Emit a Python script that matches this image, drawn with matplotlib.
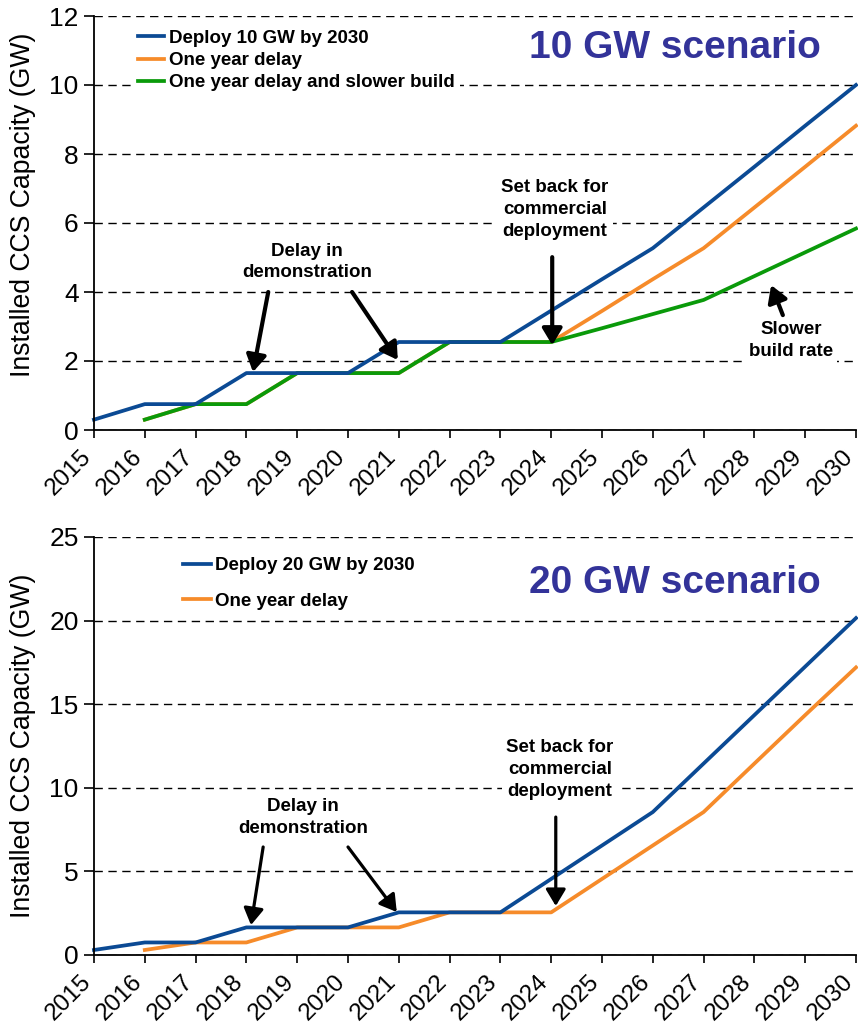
import numpy as np
import matplotlib
matplotlib.use("Agg")
import matplotlib.pyplot as plt
import matplotlib.transforms as mtransforms

plt.rcParams['font.family'] = ['Liberation Sans', 'DejaVu Sans']

years = list(range(2015, 2031))
year_labels = [str(y) for y in years]

# 10 GW scenario
deploy10 = [0.3, 0.75, 0.75, 1.65, 1.65, 1.65, 2.55, 2.55, 2.55, 3.46, 4.37, 5.27, 6.45, 7.63, 8.82, 10.0]
delay10 = [np.nan, 0.3, 0.75, 0.75, 1.65, 1.65, 1.65, 2.55, 2.55, 2.55, 3.45, 4.37, 5.27, 6.45, 7.63, 8.82]
slower10 = [np.nan, 0.3, 0.75, 0.75, 1.65, 1.65, 1.65, 2.55, 2.55, 2.55, 2.95, 3.36, 3.77, 4.46, 5.15, 5.84]

# 20 GW scenario
deploy20 = [0.3, 0.75, 0.75, 1.65, 1.65, 1.65, 2.55, 2.55, 2.55, 4.55, 6.55, 8.55, 11.45, 14.35, 17.25, 20.15]
delay20 = [np.nan, 0.3, 0.75, 0.75, 1.65, 1.65, 1.65, 2.55, 2.55, 2.55, 4.55, 6.55, 8.55, 11.45, 14.35, 17.2]

BLUE = "#0B4A94"
ORANGE = "#F68B2A"
GREEN = "#0A9A0A"
TITLE_C = "#333399"

W, H = 858, 1027
fig = plt.figure(figsize=(W / 100, H / 100), dpi=100)

def px_axes(left, top, right, bottom):
    return fig.add_axes([left / W, 1 - bottom / H, (right - left) / W, (bottom - top) / H])

ax1 = px_axes(94, 16, 856, 430)
ax2 = px_axes(94, 537, 856, 955)

offset = mtransforms.ScaledTranslation(-14 / 100, -16 / 100, fig.dpi_scale_trans)

def style(ax, ymax, ystep):
    ax.set_xlim(2015, 2030)
    ax.set_ylim(0, ymax)
    ax.set_xticks(years)
    ax.set_xticklabels([])
    trans = mtransforms.blended_transform_factory(ax.transData, ax.transAxes) + offset
    for yr, lab in zip(years, year_labels):
        ax.text(yr, 0, lab, transform=trans, rotation=45, ha='right', va='top',
                rotation_mode='anchor', fontsize=17.5, clip_on=False)
    ax.set_yticks(np.arange(0, ymax + 0.01, ystep))
    ax.tick_params(axis='y', labelsize=19, direction='out', length=7, width=1.2, pad=4)
    ax.tick_params(axis='x', direction='out', length=6, width=1.2, pad=3)
    for s in ['top', 'right']:
        ax.spines[s].set_visible(False)
    for s in ['left', 'bottom']:
        ax.spines[s].set_linewidth(1.3)
        ax.spines[s].set_zorder(5)
    ax.set_axisbelow(True)
    ax.yaxis.grid(True, color='black', linestyle=(0, (6, 4)), linewidth=1.0)
    ax.set_ylabel("Installed CCS Capacity (GW)", fontsize=19.2)
    ax.margins(0)

style(ax1, 12, 2)
style(ax2, 25, 5)
ax1.yaxis.set_label_coords(-0.076, 0.545)
ax2.yaxis.set_label_coords(-0.076, 0.5)

lw = 2.7
ax1.plot(years, deploy10, color=BLUE, lw=lw, label="Deploy 10 GW by 2030", zorder=4, clip_on=False)
ax1.plot(years, delay10, color=ORANGE, lw=lw, label="One year delay", zorder=3, clip_on=False)
ax1.plot(years, slower10, color=GREEN, lw=lw, label="One year delay and slower build", zorder=3.5, clip_on=False)

ax2.plot(years, deploy20, color=BLUE, lw=lw, label="Deploy 20 GW by 2030", zorder=4, clip_on=False)
ax2.plot(years, delay20, color=ORANGE, lw=lw, label="One year delay", zorder=3, clip_on=False)

leg1 = ax1.legend(loc='upper left', bbox_to_anchor=(0.05, 0.98), frameon=True,
                  prop={'weight': 'bold', 'size': 13.5}, handlelength=1.4,
                  handletextpad=0.25, labelspacing=0.27, borderpad=0.3, borderaxespad=0)
leg1.get_frame().set_edgecolor('none')
leg1.get_frame().set_facecolor('white')
leg1.get_frame().set_alpha(1)

leg2 = ax2.legend(loc='upper left', bbox_to_anchor=(0.11, 0.965), frameon=True,
                  prop={'weight': 'bold', 'size': 13.5}, handlelength=1.45,
                  handletextpad=0.25, labelspacing=0.98, borderpad=0.3, borderaxespad=0)
leg2.get_frame().set_edgecolor('none')
leg2.get_frame().set_facecolor('white')
leg2.get_frame().set_alpha(1)

ax1.text(0.762, 0.923, "10 GW scenario", transform=ax1.transAxes, fontsize=28,
         fontweight='bold', color=TITLE_C, ha='center', va='center')
ax2.text(0.762, 0.89, "20 GW scenario", transform=ax2.transAxes, fontsize=28,
         fontweight='bold', color=TITLE_C, ha='center', va='center')

box = dict(facecolor='white', edgecolor='none', pad=3)
tk = dict(fontsize=13.5, fontweight='bold', ha='center', va='center', linespacing=1.38, zorder=6)

def arrow(ax, start, end, lw_):
    ax.annotate("", xy=end, xytext=start,
                arrowprops=dict(arrowstyle='-|>,head_length=0.5,head_width=0.3', color='black', lw=lw_,
                                mutation_scale=20, shrinkA=0, shrinkB=0), zorder=7)

# top annotations
ax1.text(2019.19, 4.87, "Delay in\ndemonstration", bbox=box, **tk)
arrow(ax1, (2018.43, 4.0), (2018.13, 1.68), 3.0)
arrow(ax1, (2020.08, 4.0), (2020.98, 2.03), 3.0)
ax1.text(2024.07, 6.4, "Set back for\ncommercial\ndeployment", bbox=box, **tk)
arrow(ax1, (2024.02, 5.01), (2024.02, 2.46), 3.0)
ax1.text(2028.72, 2.6, "Slower\nbuild rate", bbox=box, **tk)
arrow(ax1, (2028.56, 3.33), (2028.33, 4.2), 3.0)

# bottom annotations
ax2.text(2019.11, 8.25, "Delay in\ndemonstration", bbox=box, **tk)
arrow(ax2, (2018.33, 6.46), (2018.09, 1.79), 2.3)
arrow(ax2, (2020.0, 6.46), (2020.96, 2.57), 2.3)
ax2.text(2024.17, 11.12, "Set back for\ncommercial\ndeployment", bbox=box, **tk)
arrow(ax2, (2024.09, 8.25), (2024.09, 2.93), 2.3)

fig.savefig("out.png", dpi=100)
